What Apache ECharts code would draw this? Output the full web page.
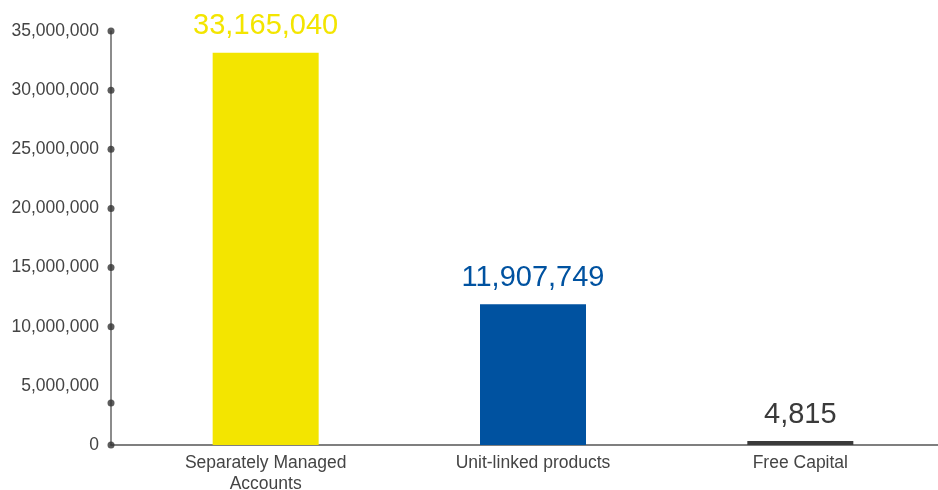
<!DOCTYPE html>
<html>
<head>
<meta charset="utf-8">
<script src="https://cdn.jsdelivr.net/npm/echarts@6/dist/echarts.min.js"></script>
<style>
  html, body { margin: 0; padding: 0; background: #ffffff; }
  #chart { width: 938px; height: 490px; }
</style>
</head>
<body>
<div id="chart"></div>
<script>
// Chart data
const categories = ['Separately Managed\nAccounts', 'Unit-linked products', 'Free Capital'];
const values = [33165040, 11907749, 4815];
const barColors = ['#F3E500', '#0052A0', '#3A3A3A'];
// Value-axis range and the dot markers drawn along the axis line
const axisMin = 0;
const axisMax = 35000000;
const axisStep = 5000000;
const tickDots = [0, 3550000, 10000000, 15000000, 20000000, 25000000, 30000000, 35000000];

const FONT = '"Liberation Sans", Arial, Helvetica, sans-serif';

const chart = echarts.init(document.getElementById('chart'), null, { renderer: 'canvas' });

chart.setOption({
  animation: false,
  backgroundColor: '#ffffff',
  textStyle: { fontFamily: FONT },
  grid: [
    // frame: y axis with labels, baseline and the dots
    { left: 111, right: 0, top: 31, bottom: 45, outerBoundsMode: 'none', containLabel: false },
    // bars
    { left: 132, right: 4, top: 31, bottom: 45, outerBoundsMode: 'none', containLabel: false }
  ],
  xAxis: [
    {
      type: 'value', gridIndex: 0, min: 0, max: 1,
      axisLine: { show: true, lineStyle: { color: '#555555', width: 1.5 } },
      axisTick: { show: false }, axisLabel: { show: false }, splitLine: { show: false }
    },
    {
      type: 'category', gridIndex: 1, data: categories,
      axisLine: { show: false }, axisTick: { show: false }, splitLine: { show: false },
      axisLabel: {
        color: '#444444', fontSize: 17.5, lineHeight: 21, margin: 8, fontFamily: FONT,
        interval: 0
      }
    }
  ],
  yAxis: [
    {
      type: 'value', gridIndex: 0, min: axisMin, max: axisMax, interval: axisStep,
      axisLine: { show: true, lineStyle: { color: '#666666', width: 1.5 } },
      axisTick: { show: false }, splitLine: { show: false },
      axisLabel: {
        color: '#444444', fontSize: 17.5, margin: 12, fontFamily: FONT,
        formatter: v => v.toLocaleString('en-US')
      }
    },
    {
      type: 'value', gridIndex: 1, min: axisMin, max: axisMax, interval: axisStep,
      show: false
    }
  ],
  series: [
    {
      type: 'bar', xAxisIndex: 1, yAxisIndex: 1,
      barWidth: 106, barMinHeight: 4,
      data: values.map((v, i) => ({
        value: v,
        itemStyle: { color: barColors[i] },
        label: { color: barColors[i] }
      })),
      label: {
        show: true, position: 'top', distance: 12,
        fontSize: 29, fontFamily: FONT,
        formatter: p => p.value.toLocaleString('en-US')
      }
    },
    {
      type: 'scatter', xAxisIndex: 0, yAxisIndex: 0,
      symbol: 'circle', symbolSize: 7, clip: false, z: 5,
      itemStyle: { color: '#333333' },
      data: tickDots.map(v => [0, v])
    }
  ]
});
</script>
</body>
</html>
